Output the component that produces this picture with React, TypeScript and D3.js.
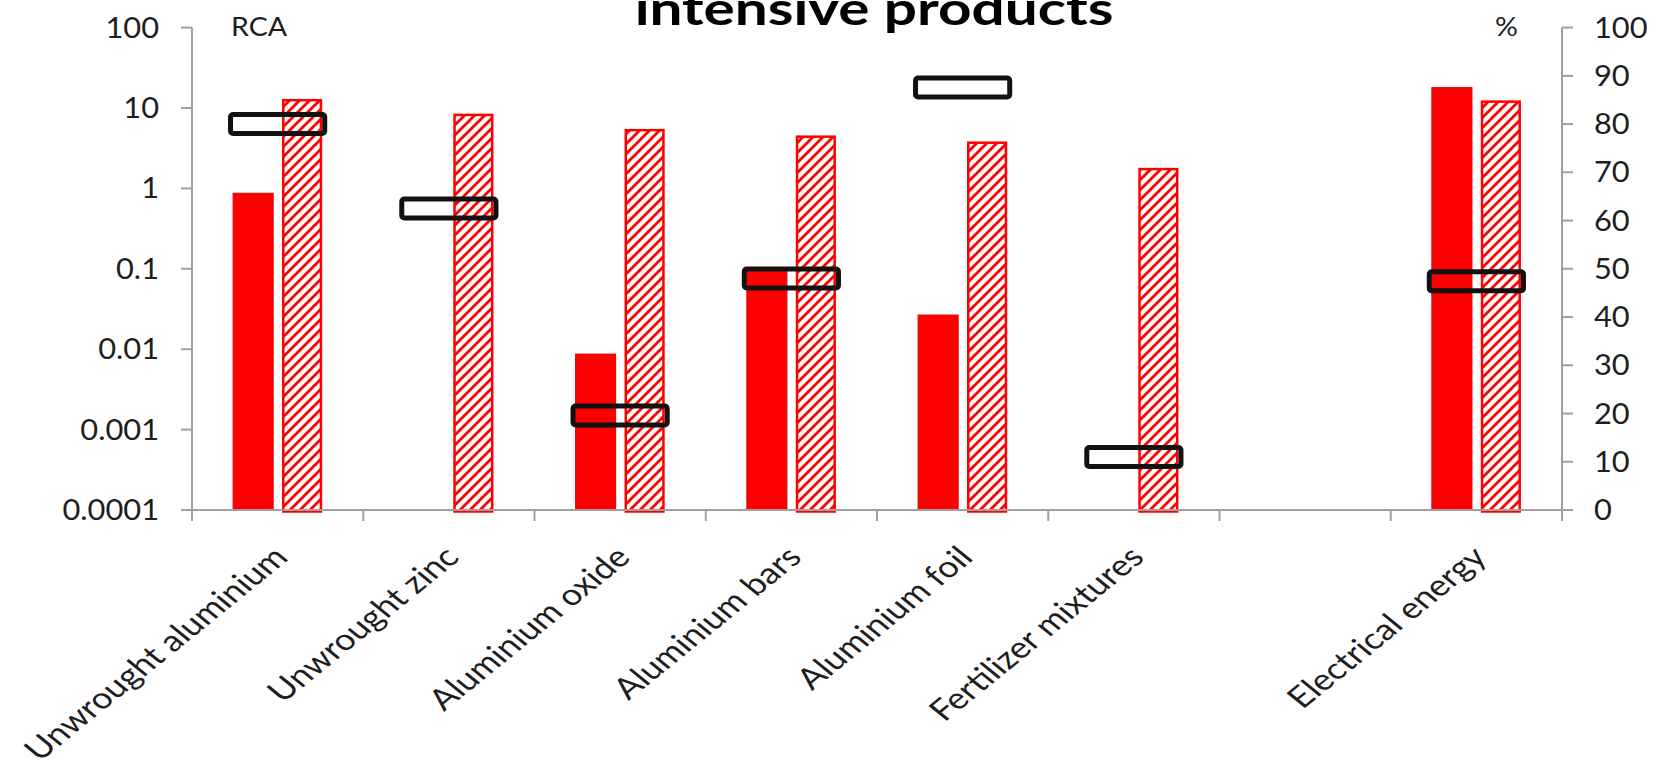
import React from "react";
import * as d3 from "d3";

const categories = [
  "Unwrought aluminium",
  "Unwrought zinc",
  "Aluminium oxide",
  "Aluminium bars",
  "Aluminium foil",
  "Fertilizer mixtures",
  "",
  "Electrical energy",
];
// RCA (left log axis)
const rcaSolid: (number | null)[] = [0.87, null, 0.0087, 0.095, 0.0266, null, null, 17.9];
const rcaHatched: (number | null)[] = [12.5, 8.2, 5.3, 4.4, 3.7, 1.74, null, 12.0];
// % (right axis)
const pctMarker: (number | null)[] = [80, 62.5, 19.6, 48, 87.6, 11, null, 47.4];

const leftTicks = [0.0001, 0.001, 0.01, 0.1, 1, 10, 100];
const leftTickLabels = ["0.0001", "0.001", "0.01", "0.1", "1", "10", "100"];
const rightTicks = [0, 10, 20, 30, 40, 50, 60, 70, 80, 90, 100];

const W = 1664;
const H = 771;
const X0 = 192;
const X1 = 1562;
const YB = 510;
const YT = 27.6;
const FONT = "Lato, 'Open Sans', sans-serif";
const AXIS = "#a0a0a0";
const TXT = "#1e1e1e";

export default function App() {
  const x = d3
    .scaleBand<number>()
    .domain(categories.map((_, i) => i))
    .range([X0, X1])
    .paddingInner(0)
    .paddingOuter(0);
  const yL = d3.scaleLog().domain([1e-4, 100]).range([YB, YT]);
  const yR = d3.scaleLinear().domain([0, 100]).range([YB, YT]);
  const bw = x.bandwidth();
  const barW = bw * 0.234;
  const gap = bw * 0.052;
  const boxW = bw * 0.55;
  const boxH = 19;

  const boundaries = categories.map((_, i) => x(i) as number).concat([X1]);

  return (
    <svg
      width={W}
      height={H}
      style={{ position: "absolute", left: 0, top: 0, background: "#fff" }}
    >
      <defs>
        <pattern id="hatch" patternUnits="userSpaceOnUse" width={10} height={10}>
          <rect width={10} height={10} fill="#fff" />
          <path
            d="M-2,2 L2,-2 M0,10 L10,0 M8,12 L12,8"
            stroke="#ff0000"
            strokeWidth={2.8}
          />
        </pattern>
      </defs>

      {/* title */}
      <text
        transform={`translate(874,25) scale(1.3,1)`}
        textAnchor="middle"
        fontFamily={FONT}
        fontWeight={700}
        fontSize={45}
        fill="#000"
      >
        intensive products
      </text>

      {/* bars */}
      {categories.map((_, i) => {
        const cx = (x(i) as number) + bw / 2;
        const s = rcaSolid[i];
        const h = rcaHatched[i];
        return (
          <g key={"b" + i}>
            {s != null && (
              <rect
                x={cx - gap / 2 - barW}
                y={yL(s)}
                width={barW}
                height={YB - yL(s)}
                fill="#ff0000"
                stroke="#e00000"
                strokeWidth={1}
              />
            )}
            {h != null && (
              <rect
                x={cx + gap / 2 + 1.2}
                y={yL(h)}
                width={barW - 2.4}
                height={YB - yL(h) + 1.5}
                fill="url(#hatch)"
                stroke="#ff0000"
                strokeWidth={2.5}
              />
            )}
          </g>
        );
      })}

      {/* axes */}
      <line x1={X0} x2={X1} y1={YB} y2={YB} stroke={AXIS} strokeWidth={2} />
      <line x1={X0} x2={X0} y1={YT} y2={YB} stroke={AXIS} strokeWidth={2} />
      <line x1={X1} x2={X1} y1={YT} y2={YB} stroke={AXIS} strokeWidth={2} />
      {boundaries.map((bx, i) => (
        <line key={"xt" + i} x1={bx} x2={bx} y1={YB} y2={YB + 11} stroke={AXIS} strokeWidth={2} />
      ))}
      {leftTicks.map((t, i) => (
        <g key={"lt" + i}>
          <line x1={X0 - 11} x2={X0} y1={yL(t)} y2={yL(t)} stroke={AXIS} strokeWidth={2} />
          <text
            transform={`translate(159,${yL(t)}) scale(1.1,1)`}
            textAnchor="end"
            dy="0.36em"
            fontFamily={FONT}
            fontSize={28}
            fill={TXT}
          >
            {leftTickLabels[i]}
          </text>
        </g>
      ))}
      {rightTicks.map((t, i) => (
        <g key={"rt" + i}>
          <line x1={X1} x2={X1 + 11} y1={yR(t)} y2={yR(t)} stroke={AXIS} strokeWidth={2} />
          <text
            transform={`translate(1594,${yR(t)}) scale(1.1,1)`}
            textAnchor="start"
            dy="0.36em"
            fontFamily={FONT}
            fontSize={28}
            fill={TXT}
          >
            {t}
          </text>
        </g>
      ))}

      {/* axis unit labels */}
      <text
        transform="translate(231,36) scale(1.1,1)"
        fontFamily={FONT}
        fontSize={26}
        fill={TXT}
      >
        RCA
      </text>
      <text
        transform="translate(1495,36) scale(1.1,1)"
        fontFamily={FONT}
        fontSize={26}
        fill={TXT}
      >
        %
      </text>

      {/* markers */}
      {categories.map((_, i) => {
        const v = pctMarker[i];
        if (v == null) return null;
        const cx = (x(i) as number) + bw / 2;
        return (
          <rect
            key={"m" + i}
            x={cx - boxW / 2}
            y={yR(v) - boxH / 2}
            width={boxW}
            height={boxH}
            rx={2.5}
            fill="none"
            stroke="#111"
            strokeWidth={5}
          />
        );
      })}

      {/* category labels */}
      {categories.map((c, i) => {
        const cx = (x(i) as number) + bw / 2;
        return (
          <text
            key={"c" + i}
            transform={`translate(${cx + 12},559) scale(1.23,1) rotate(-45)`}
            textAnchor="end"
            fontFamily={FONT}
            fontSize={29.5}
            fill={TXT}
          >
            {c}
          </text>
        );
      })}
    </svg>
  );
}
